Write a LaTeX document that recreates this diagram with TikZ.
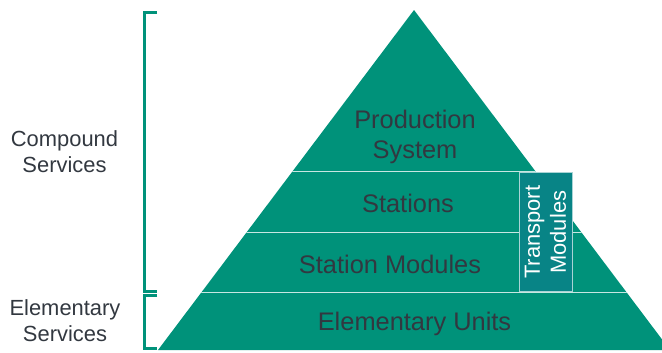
\documentclass[tikz,border=0pt]{standalone}
\usepackage{fontspec}
\setmainfont{Liberation Sans}
\usepackage{tikz}
\usetikzlibrary{positioning}
\definecolor{pyrgreen}{RGB}{0,146,122}
\definecolor{boxteal}{RGB}{8,132,134}
\definecolor{labelgray}{RGB}{50,56,64}

\begin{document}
\begin{tikzpicture}[x=1bp, y=-1bp,
  layer/.style={font=\fontsize{25.5}{30}\selectfont, text=labelgray, align=center},
  side/.style={font=\fontsize{22}{26}\selectfont, text=labelgray, align=center},
  sep/.style={draw=white!78!pyrgreen, line width=1.6bp},
  brace/.style={draw=pyrgreen, line width=3bp}]
  \useasboundingbox (0,0) rectangle (662,352);
  \coordinate (apex) at (414,10);
  \coordinate (bl) at (158,350);
  \coordinate (br) at (670,350);
  \fill[pyrgreen] (apex) -- (bl) -- (br) -- cycle;
  \begin{scope}
    \clip (apex) -- (bl) -- (br) -- cycle;
    \path[sep] (100,171.5) -- (700,171.5)
               (100,232.3) -- (700,232.3)
               (100,292.5) -- (700,292.5);
  \end{scope}
  \node (transport) [rotate=90, fill=boxteal, draw=white!65!boxteal, line width=0.8bp,
    minimum width=119bp, minimum height=53bp, inner sep=0pt, text=white,
    font=\fontsize{22}{26}\selectfont, align=center] at (545.5,232.2) {Transport\\Modules};
  \node (prod) [layer] at (415,136.5) {Production\\System};
  \node (stat) [layer, anchor=base] at (408,212) {Stations};
  \node (smod) [layer, anchor=base] at (390,273) {Station Modules};
  \node (eunit) [layer, anchor=base] at (414.5,330.5) {Elementary Units};
  \node (comp) [side] at (64.5,152) {Compound\\Services};
  \node (elem) [side] at (65,321) {Elementary\\Services};
  \coordinate (ct) at (144,12);
  \coordinate (cb) at (144,291);
  \coordinate (et) at (144,295.5);
  \coordinate (eb) at (144,348.5);
  \draw[brace] ([xshift=13bp]ct) -- (ct) -- (cb) -- ([xshift=13bp]cb);
  \draw[brace] ([xshift=13bp]et) -- (et) -- (eb) -- ([xshift=13bp]eb);
\end{tikzpicture}
\end{document}
